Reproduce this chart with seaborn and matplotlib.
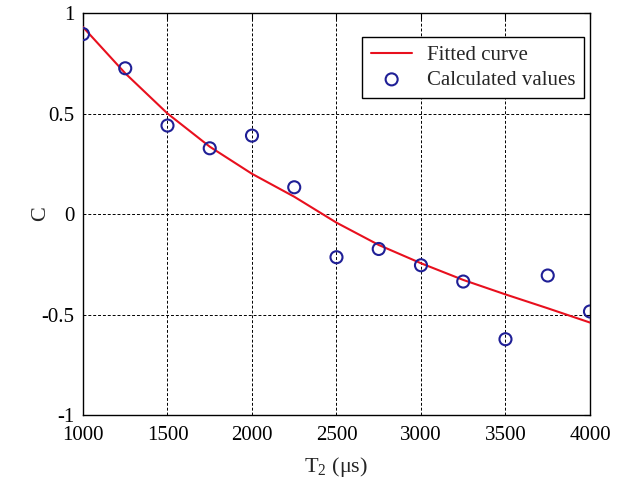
import matplotlib
matplotlib.use("Agg")
import matplotlib.pyplot as plt
import seaborn as sns
import pandas as pd

# Data
t2_points = [1000, 1250, 1500, 1750, 2000, 2250, 2500, 2750, 3000, 3250, 3500, 3750, 4000]
c_calc = [0.895, 0.725, 0.44, 0.327, 0.39, 0.133, -0.215, -0.174, -0.255, -0.336, -0.623, -0.306, -0.485]
c_fit = [0.93, 0.70, 0.50, 0.335, 0.20, 0.086, -0.043, -0.154, -0.245, -0.328, -0.40, -0.469, -0.54]
xticks = [1000, 1500, 2000, 2500, 3000, 3500, 4000]
yticks = [-1, -0.5, 0, 0.5, 1]
ytick_labels = ["-1", "-0.5", "0", "0.5", "1"]

sns.set_style("white")
plt.rcParams["font.family"] = ["Liberation Serif", "DejaVu Serif"]
plt.rcParams["mathtext.fontset"] = "custom"
plt.rcParams["mathtext.rm"] = "Liberation Serif"
plt.rcParams["mathtext.it"] = "Liberation Serif:italic"
plt.rcParams["axes.unicode_minus"] = False

df_fit = pd.DataFrame({"T2": t2_points, "C": c_fit})
df_calc = pd.DataFrame({"T2": t2_points, "C": c_calc})

fig = plt.figure(figsize=(6.35, 4.8), dpi=100)
ax = fig.add_axes([0.1307, 0.1354, 0.7984, 0.8375])

sns.lineplot(data=df_fit, x="T2", y="C", ax=ax, color="#e8101e", linewidth=1.5,
             label="Fitted curve", zorder=3)
sns.scatterplot(data=df_calc, x="T2", y="C", ax=ax, marker="o", s=75,
                facecolors="none", edgecolor="#1f1f96", linewidth=1.5,
                label="Calculated values", zorder=4)

ax.set_xlim(1000, 4000)
ax.set_ylim(-1, 1)
ax.set_xticks(xticks)
ax.set_yticks(yticks)
ax.set_yticklabels(ytick_labels)
ax.tick_params(axis="both", direction="in", length=4, width=0.8, labelsize=15,
               top=True, right=True, colors="black")
ax.tick_params(axis="x", pad=8)
ax.tick_params(axis="y", pad=6)
ax.grid(True, linestyle=(0, (3, 2)), color="black", linewidth=0.7)
for sp in ax.spines.values():
    sp.set_visible(True)
    sp.set_color("black")
    sp.set_linewidth(1.0)

ax.set_xlabel("T$_2$ (μs)", fontsize=16, labelpad=7)
ax.set_ylabel("C", fontsize=16, labelpad=-6)

leg = ax.legend(loc="upper right", bbox_to_anchor=(0.988, 0.94), borderaxespad=0,
                fontsize=15, frameon=True, fancybox=False, edgecolor="black",
                framealpha=1, borderpad=0.4, handlelength=2.0, labelspacing=0.25,
                handletextpad=0.7)
leg.get_frame().set_linewidth(1.0)

fig.savefig("out.png", dpi=100)
